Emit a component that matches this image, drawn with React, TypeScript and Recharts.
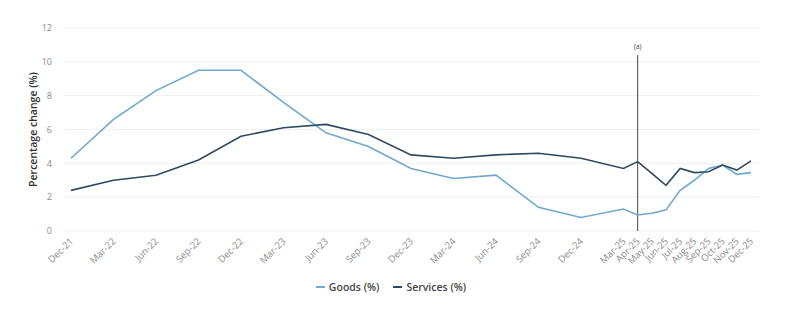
import { LineChart, Line, XAxis, YAxis, CartesianGrid, ReferenceLine } from "recharts";

const periods = [
  "Dec-21", "Mar-22", "Jun-22", "Sep-22", "Dec-22", "Mar-23", "Jun-23", "Sep-23",
  "Dec-23", "Mar-24", "Jun-24", "Sep-24", "Dec-24", "Mar-25", "Apr-25", "May-25",
  "Jun-25", "Jul-25", "Aug-25", "Sep-25", "Oct-25", "Nov-25", "Dec-25",
];
const goods = [
  4.3, 6.6, 8.3, 9.5, 9.5, 7.6, 5.8, 5.0, 3.7, 3.1, 3.3, 1.4, 0.8, 1.3, 0.95, 1.05,
  1.25, 2.4, 3.0, 3.7, 3.9, 3.35, 3.45,
];
const services = [
  2.4, 3.0, 3.3, 4.2, 5.6, 6.1, 6.3, 5.7, 4.5, 4.3, 4.5, 4.6, 4.3, 3.7, 4.1, 3.4,
  2.7, 3.7, 3.45, 3.5, 3.9, 3.6, 4.15,
];
const yTicks = [0, 2, 4, 6, 8, 10, 12];
const markerPeriod = "Apr-25";
const markerLabel = "(a)";

const MONTHS = ["Jan", "Feb", "Mar", "Apr", "May", "Jun", "Jul", "Aug", "Sep", "Oct", "Nov", "Dec"];

// months since Dec-21, so the axis is spaced by time
const monthIndex = (label: string) => {
  const [mon, yy] = label.split("-");
  return (Number(yy) - 21) * 12 + MONTHS.indexOf(mon) - 11;
};

const data = periods.map((p, i) => ({ m: monthIndex(p), label: p, goods: goods[i], services: services[i] }));
const xTicks = data.map((d) => d.m);
const labelFor = (m: number) => data.find((d) => d.m === m)?.label ?? "";

const GOODS = "#6FA9CC";
const SERVICES = "#2E4A62";
const FONT = "'Open Sans', sans-serif";

const XTick = ({ x, y, payload }: any) => (
  <text
    x={x}
    y={y}
    dy={4}
    textAnchor="end"
    fontSize={9.5}
    fontFamily={FONT}
    fill="#8a8a8a"
    transform={`rotate(-45, ${x}, ${y})`}
  >
    {labelFor(payload.value)}
  </text>
);

const YLabel = ({ viewBox }: any) => {
  const cx = 33;
  const cy = viewBox.y + viewBox.height / 2;
  return (
    <text
      x={cx}
      y={cy}
      textAnchor="middle"
      dominantBaseline="central"
      fontSize={10.5}
      fontWeight={600}
      fontFamily={FONT}
      fill="#333"
      transform={`rotate(-90, ${cx}, ${cy})`}
    >
      Percentage change (%)
    </text>
  );
};

const MarkerLabel = ({ viewBox }: any) => (
  <text x={viewBox.x} y={viewBox.y - 6} textAnchor="middle" fontSize={7} fontFamily={FONT} fill="#444">
    {markerLabel}
  </text>
);

const LegendRow = () => (
  <div
    style={{
      position: "absolute",
      top: 280,
      left: 0,
      width: 782,
      display: "flex",
      justifyContent: "center",
      gap: 14,
      fontFamily: FONT,
      fontSize: 10.5,
      fontWeight: 600,
      color: "#444",
    }}
  >
    {[
      { name: "Goods (%)", color: GOODS },
      { name: "Services (%)", color: SERVICES },
    ].map((s) => (
      <span key={s.name} style={{ display: "flex", alignItems: "center" }}>
        <span style={{ display: "inline-block", width: 9, height: 1.5, background: s.color, marginRight: 4 }} />
        {s.name}
      </span>
    ))}
  </div>
);

export default function App() {
  const mx = monthIndex(markerPeriod);
  return (
    <div style={{ position: "absolute", left: 0, top: 0, width: 800, height: 323, background: "#fff" }}>
      <LineChart width={800} height={323} data={data} margin={{ top: 28, right: 41, left: 0, bottom: 30 }}>
        <CartesianGrid vertical={false} stroke="#efefef" />
        <XAxis
          dataKey="m"
          type="number"
          domain={[0, 48]}
          ticks={xTicks}
          interval={0}
          padding={{ left: 8, right: 8 }}
          tick={<XTick />}
          tickLine={false}
          axisLine={false}
          height={62}
        />
        <YAxis
          domain={[0, 12]}
          ticks={yTicks}
          width={63}
          tickLine={false}
          axisLine={false}
          tickMargin={5}
          tick={{ fontSize: 9, fill: "#8a8a8a", fontFamily: FONT }}
          label={<YLabel />}
        />
        <ReferenceLine
          segment={[
            { x: mx, y: 0 },
            { x: mx, y: 10.4 },
          ]}
          stroke="#444"
          strokeWidth={1}
          label={<MarkerLabel />}
        />
        <Line
          type="linear"
          dataKey="goods"
          stroke={GOODS}
          strokeWidth={1.6}
          dot={false}
          isAnimationActive={false}
        />
        <Line
          type="linear"
          dataKey="services"
          stroke={SERVICES}
          strokeWidth={1.6}
          dot={false}
          isAnimationActive={false}
        />
      </LineChart>
      <LegendRow />
    </div>
  );
}
